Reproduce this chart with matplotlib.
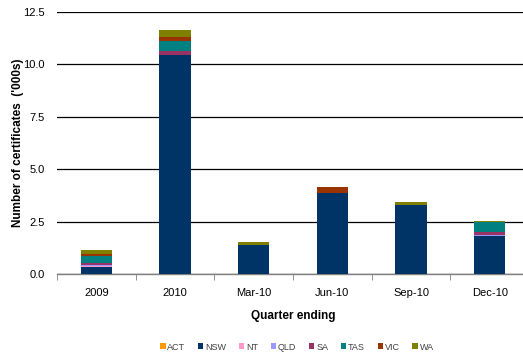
import numpy as np
import matplotlib
matplotlib.use('Agg')
import matplotlib.pyplot as plt
from matplotlib.patches import Patch

plt.rcParams['font.family'] = ['Liberation Sans', 'DejaVu Sans']

quarters = ['2009', '2010', 'Mar-10', 'Jun-10', 'Sep-10', 'Dec-10']
states = ['ACT', 'NSW', 'NT', 'QLD', 'SA', 'TAS', 'VIC', 'WA']
colors = ['#FF9900', '#003366', '#FF99CC', '#9999FF',
          '#993366', '#008080', '#993300', '#808000']

# certificates ('000s) per state, one value per quarter
act = [0.00, 0.00, 0.00, 0.00, 0.00, 0.00]
nsw = [0.33, 10.43, 1.38, 3.88, 3.29, 1.81]
nt = [0.06, 0.03, 0.00, 0.00, 0.00, 0.00]
qld = [0.03, 0.00, 0.00, 0.00, 0.00, 0.05]
sa = [0.12, 0.17, 0.00, 0.00, 0.00, 0.14]
tas = [0.30, 0.48, 0.00, 0.00, 0.00, 0.46]
vic = [0.13, 0.22, 0.00, 0.29, 0.00, 0.00]
wa = [0.19, 0.32, 0.14, 0.00, 0.14, 0.05]

series = [act, nsw, nt, qld, sa, tas, vic, wa]

fig = plt.figure(figsize=(5.23, 3.56), dpi=100)
ax = fig.add_axes([57 / 523, 1 - 274 / 356, 472 / 523, 262 / 356])

x = np.arange(len(quarters))
bottom = np.zeros(len(quarters))
for name, vals, c in zip(states, series, colors):
    vals = np.asarray(vals, dtype=float)
    ax.bar(x, vals, 0.4, bottom=bottom, color=c, label=name,
           edgecolor='none', zorder=3)
    bottom += vals

ax.set_xlim(-0.5, 5.5)
ax.set_ylim(0, 12.5)
ax.set_yticks(np.arange(0, 12.51, 2.5))
ax.set_yticklabels([f'{v:.1f}' for v in np.arange(0, 12.51, 2.5)])
ax.grid(True, axis='y', color='#000000', linewidth=0.9, zorder=1)

ax.set_xticks(x)
ax.set_xticklabels(quarters)
ax.set_xticks(np.arange(-0.5, 6, 1), minor=True)
ax.tick_params(axis='x', which='major', length=0, pad=10, labelsize=8)
ax.tick_params(axis='x', which='minor', length=4, color='#808080',
               direction='out')
ax.tick_params(axis='y', length=0, pad=9, labelsize=8)

for side in ['top', 'right', 'left']:
    ax.spines[side].set_visible(False)
ax.spines['bottom'].set_color('#808080')
ax.spines['bottom'].set_linewidth(1.0)

ax.set_xlabel('Quarter ending', fontsize=8.5, fontweight='bold', labelpad=9)
ax.set_ylabel("Number of certificates  ('000s)", fontsize=8.5,
              fontweight='bold', labelpad=-1)

handles = [Patch(facecolor=c, edgecolor='none', label=s)
           for s, c in zip(states, colors)]
leg = fig.legend(handles=handles, loc='center', ncol=8,
                 bbox_to_anchor=(297 / 523, 1 - 347 / 356), frameon=False,
                 fontsize=6.5, handlelength=0.6, handleheight=0.6,
                 handletextpad=0.2, columnspacing=1.4)
for t in leg.get_texts():
    t.set_color('#404040')

fig.savefig('out.png', dpi=100)
